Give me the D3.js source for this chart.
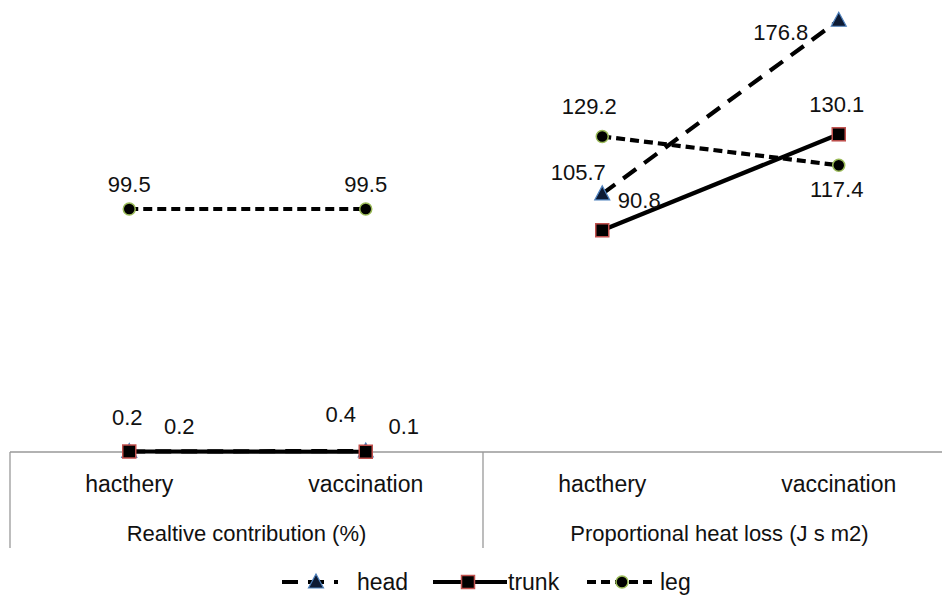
<!DOCTYPE html>
<html>
<head>
<meta charset="utf-8">
<script src="https://cdn.jsdelivr.net/npm/d3@7"></script>
<style>
  body { margin: 0; background: #fff; }
  svg text { font-family: "Liberation Sans", Arial, sans-serif; fill: #111; }
</style>
</head>
<body>
<svg id="chart" width="942" height="597"></svg>
<script>
// categories on the axis, two groups of two
var categories = ["hacthery", "vaccination", "hacthery", "vaccination"];
var groups = ["Realtive contribution (%)", "Proportional heat loss (J s m2)"];
var series_names = ["head", "trunk", "leg"];

var head = [0.2, 0.4, 105.7, 176.8];
var trunk = [0.2, 0.1, 90.8, 130.1];
var leg = [99.5, 99.5, 129.2, 117.4];

/* where each data label sits relative to its point (dx, dy) */
var label_offsets = {
    "head":  [[-2, -27], [-25, -29], [-24, -14], [-58, 20]],
    "trunk": [[50, -18], [38, -18], [37, -22], [-2, -22]],
    "leg":   [[0, -17], [0, -17], [-13, -22], [-2, 32]]
};

var styles = {
    "head":  { dash: "16,10", marker: "triangle", fill: "#0d1a33", edge: "#4f81bd" },
    "trunk": { dash: null, marker: "square", fill: "#000", edge: "#c0504d" },
    "leg":   { dash: "9,5", marker: "circle", fill: "#000", edge: "#9bbb59" }
};

var axis_y = 452;
var px_per_unit = 2.442;

function draw_chart() {
    var svg = d3.select("svg#chart");
    var series = [
        { name: "head", values: head },
        { name: "trunk", values: trunk },
        { name: "leg", values: leg }
    ];

    var x = d3.scaleBand().domain(d3.range(categories.length))
        .range([10, 956]).padding(0);
    var y = d3.scaleLinear().domain([0, 180])
        .range([axis_y, axis_y - 180 * px_per_unit]);
    var cx = function (i) { return x(i) + x.bandwidth() / 2 + 1; };

    // category axis with group level
    var ax = svg.append("g");
    ax.append("line").attr("x1", 10).attr("x2", 942)
        .attr("y1", axis_y).attr("y2", axis_y)
        .attr("stroke", "#999").attr("stroke-width", 1.3);
    [0, 2, 4].forEach(function (i) {
        var xx = i < 4 ? x(i) : 956;
        ax.append("line").attr("x1", xx).attr("x2", xx)
            .attr("y1", axis_y).attr("y2", 548)
            .attr("stroke", "#999").attr("stroke-width", 1.3);
    });
    ax.selectAll("text.cat").data(categories).enter().append("text")
        .attr("class", "cat")
        .attr("x", function (d, i) { return cx(i); })
        .attr("y", 492).attr("text-anchor", "middle")
        .attr("font-size", 23).text(function (d) { return d; });
    ax.selectAll("text.grp").data(groups).enter().append("text")
        .attr("class", "grp")
        .attr("x", function (d, i) { return (x(i * 2) + x(i * 2 + 1) + x.bandwidth()) / 2; })
        .attr("y", 541).attr("text-anchor", "middle")
        .attr("font-size", 22).text(function (d) { return d; });

    var line = d3.line()
        .x(function (d) { return cx(d.i); })
        .y(function (d) { return y(d.v); });

    function marker(g, kind, st, px, py) {
        if (kind === "triangle") {
            g.append("path")
                .attr("d", "M" + px + "," + (py - 8) + "L" + (px + 7.5) + "," + (py + 6)
                    + "L" + (px - 7.5) + "," + (py + 6) + "Z")
                .attr("fill", st.fill).attr("stroke", st.edge).attr("stroke-width", 1.2);
        } else if (kind === "square") {
            g.append("rect").attr("x", px - 6.5).attr("y", py - 6.5)
                .attr("width", 13).attr("height", 13)
                .attr("fill", st.fill).attr("stroke", st.edge).attr("stroke-width", 1.5);
        } else {
            g.append("circle").attr("cx", px).attr("cy", py).attr("r", 6)
                .attr("fill", st.fill).attr("stroke", st.edge).attr("stroke-width", 1.5);
        }
    }

    series.forEach(function (s) {
        var st = styles[s.name];
        var g = svg.append("g").attr("class", s.name);
        var pts = s.values.map(function (v, i) { return { v: v, i: i }; });
        // lines only join points inside the same group
        [pts.slice(0, 2), pts.slice(2, 4)].forEach(function (seg) {
            g.append("path").attr("d", line(seg))
                .attr("fill", "none").attr("stroke", "#000")
                .attr("stroke-width", 4.2)
                .attr("stroke-dasharray", st.dash);
        });
        pts.forEach(function (p) {
            marker(g, st.marker, st, cx(p.i), y(p.v));
        });
    });

    // data labels on top
    series.forEach(function (s) {
        var offs = label_offsets[s.name];
        svg.append("g").selectAll("text").data(s.values).enter().append("text")
            .attr("x", function (d, i) { return cx(i) + offs[i][0]; })
            .attr("y", function (d, i) { return y(d) + offs[i][1]; })
            .attr("text-anchor", "middle").attr("font-size", 22)
            .text(function (d) { return d3.format(".1f")(d); });
    });

    // legend
    var legend_y = 582;
    var items = [
        { name: "head", x1: 282, x2: 338, mx: 316, tx: 357 },
        { name: "trunk", x1: 433, x2: 507, mx: 468, tx: 508 },
        { name: "leg", x1: 587, x2: 657, mx: 622, tx: 660 }
    ];
    var lg = svg.append("g");
    items.forEach(function (it) {
        var st = styles[it.name];
        lg.append("line").attr("x1", it.x1).attr("x2", it.x2)
            .attr("y1", legend_y).attr("y2", legend_y)
            .attr("stroke", "#000").attr("stroke-width", 4)
            .attr("stroke-dasharray", st.dash);
        marker(lg, st.marker, st, it.mx, legend_y);
        lg.append("text").attr("x", it.tx).attr("y", legend_y + 8)
            .attr("font-size", 23).text(it.name);
    });
}

window.onload = function () {
    draw_chart();
};
</script>
</body>
</html>
